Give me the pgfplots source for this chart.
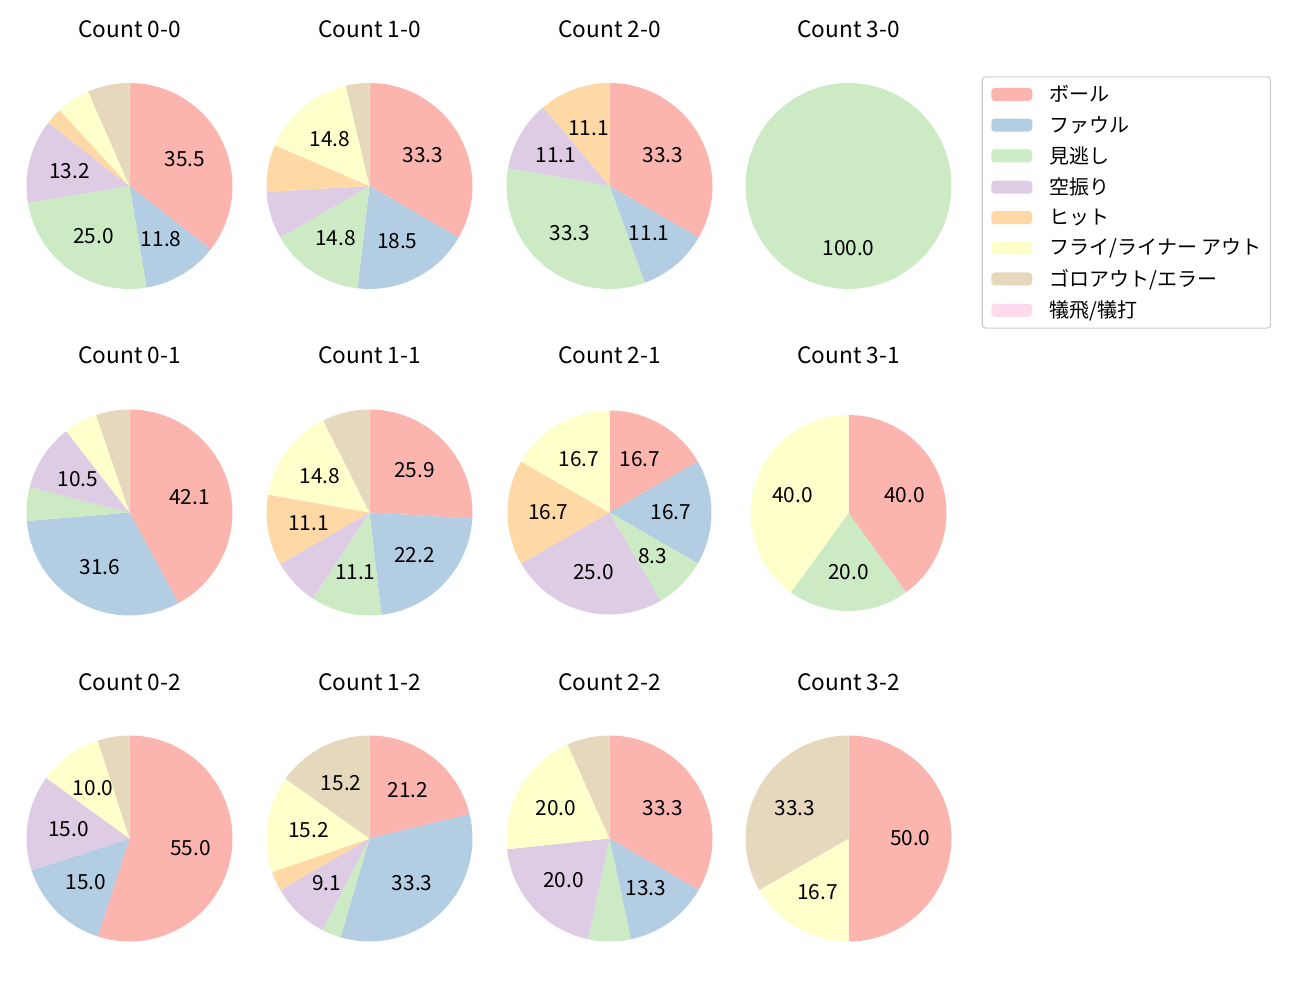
\documentclass[border=0pt]{standalone}
\usepackage{fontspec}
\setmainfont{Noto Sans CJK JP}
\usepackage{pgfplots}
\pgfplotsset{compat=1.18}

% Pastel1
\definecolor{c1}{HTML}{FBB4AE}
\definecolor{c2}{HTML}{B3CDE3}
\definecolor{c3}{HTML}{CCEBC5}
\definecolor{c4}{HTML}{DECBE4}
\definecolor{c5}{HTML}{FED9A6}
\definecolor{c6}{HTML}{FFFFCC}
\definecolor{c7}{HTML}{E5D8BD}
\definecolor{c8}{HTML}{FDDAEC}

\tikzset{
  lab/.style={font=\fontsize{15}{18}\selectfont, anchor=center, inner sep=0pt},
  ttl/.style={font=\fontsize{16.3}{19}\selectfont, anchor=center, inner sep=0pt},
}

% pie: centre x, centre y, radius (px), total count
\newcommand\piestart[4]{\xdef\pcx{#1}\xdef\pcy{#2}\xdef\prr{#3}\xdef\ptot{#4}\xdef\pacc{0}}
% slice: colour, count  (clockwise from 12 o'clock)
\newcommand\slice[2]{%
  \pgfmathsetmacro\sA{100*\pacc/\ptot}%
  \pgfmathsetmacro\sB{100*(\pacc+#2)/\ptot}%
  \pgfmathsetmacro\sM{(\sA+\sB)/2}%
  \pgfmathsetmacro\sX{\pcx+0.6*\prr*cos(90-3.6*\sM)}%
  \pgfmathsetmacro\sY{\pcy+0.6*\prr*sin(90-3.6*\sM)}%
  \pgfmathsetmacro\sP{100*#2/\ptot}%
  \pgfmathtruncatemacro\sN{\sP+4}%
  \edef\doit{\noexpand\addplot[forget plot, fill=#1, draw=none, domain=\sA:\sB,
    samples=\sN, variable=\noexpand\t]
    ({\pcx+\prr*cos(90-3.6*\noexpand\t)}, {\pcy+\prr*sin(90-3.6*\noexpand\t)})
    -- (axis cs:\pcx,\pcy) -- cycle;}%
  \doit
  \ifdim\sP pt>8pt
    \edef\dolab{\noexpand\node[lab] at (axis cs:\sX,\sY)
      {\noexpand\pgfmathprintnumber[fixed,fixed zerofill,precision=1,assume math mode=true]{\sP}};}%
    \dolab
  \fi
  \pgfmathsetmacro\sC{\pacc+#2}\xdef\pacc{\sC}}

\begin{document}
\begin{tikzpicture}
\begin{axis}[
  x=0.72pt, y=0.72pt,
  xmin=0, xmax=1300, ymin=0, ymax=1000,
  hide axis, clip=false,
  legend image code/.code={\path[#1] (0pt,-4.7pt) rectangle (29.5pt,4.7pt);},
  legend cell align=left,
  legend style={at={(axis cs:981.7,923.7)}, anchor=north west,
    draw=black!20, line width=0.8pt, rounded corners=2.5pt,
    inner xsep=6.5pt, inner ysep=6pt, row sep=8.9pt, column sep=12.5pt,
    font=\fontsize{14.4}{17}\selectfont,
    nodes={inner sep=0pt}},
]
\path (axis cs:0,0) rectangle (axis cs:1300,1000);

% --- row 0 strikes ---
\piestart{129.5}{814}{103}{76}
\slice{c1}{27}\slice{c2}{9}\slice{c3}{19}\slice{c4}{10}\slice{c5}{2}\slice{c6}{4}\slice{c7}{5}
\node[ttl] at (axis cs:129.5,971) {Count 0-0};

\piestart{369.5}{814}{103}{27}
\slice{c1}{9}\slice{c2}{5}\slice{c3}{4}\slice{c4}{2}\slice{c5}{2}\slice{c6}{4}\slice{c7}{1}
\node[ttl] at (axis cs:369.5,971) {Count 1-0};

\piestart{609.5}{814}{103}{9}
\slice{c1}{3}\slice{c2}{1}\slice{c3}{3}\slice{c4}{1}\slice{c5}{1}
\node[ttl] at (axis cs:609.5,971) {Count 2-0};

\piestart{848.5}{814}{103}{1}
\slice{c3}{1}
\node[ttl] at (axis cs:848.5,971) {Count 3-0};

% --- row 1 strike ---
\piestart{129.5}{487.5}{103}{19}
\slice{c1}{8}\slice{c2}{6}\slice{c3}{1}\slice{c4}{2}\slice{c6}{1}\slice{c7}{1}
\node[ttl] at (axis cs:129.5,644.5) {Count 0-1};

\piestart{369.5}{487.5}{103}{27}
\slice{c1}{7}\slice{c2}{6}\slice{c3}{3}\slice{c4}{2}\slice{c5}{3}\slice{c6}{4}\slice{c7}{2}
\node[ttl] at (axis cs:369.5,644.5) {Count 1-1};

\piestart{609.5}{487.5}{102}{12}
\slice{c1}{2}\slice{c2}{2}\slice{c3}{1}\slice{c4}{3}\slice{c5}{2}\slice{c6}{2}
\node[ttl] at (axis cs:609.5,644.5) {Count 2-1};

\piestart{848.5}{487}{98}{5}
\slice{c1}{2}\slice{c3}{1}\slice{c6}{2}
\node[ttl] at (axis cs:848.5,644.5) {Count 3-1};

% --- row 2 strikes ---
\piestart{129.5}{161.5}{103}{20}
\slice{c1}{11}\slice{c2}{3}\slice{c4}{3}\slice{c6}{2}\slice{c7}{1}
\node[ttl] at (axis cs:129.5,318) {Count 0-2};

\piestart{369.5}{161.5}{103}{33}
\slice{c1}{7}\slice{c2}{11}\slice{c3}{1}\slice{c4}{3}\slice{c5}{1}\slice{c6}{5}\slice{c7}{5}
\node[ttl] at (axis cs:369.5,318) {Count 1-2};

\piestart{609.5}{161.5}{103}{15}
\slice{c1}{5}\slice{c2}{2}\slice{c3}{1}\slice{c4}{3}\slice{c6}{3}\slice{c7}{1}
\node[ttl] at (axis cs:609.5,318) {Count 2-2};

\piestart{848.5}{161.5}{103}{6}
\slice{c1}{3}\slice{c6}{1}\slice{c7}{2}
\node[ttl] at (axis cs:848.5,318) {Count 3-2};

% --- legend ---
\addlegendimage{fill=c1, draw=none}\addlegendentry{ボール}
\addlegendimage{fill=c2, draw=none}\addlegendentry{ファウル}
\addlegendimage{fill=c3, draw=none}\addlegendentry{見逃し}
\addlegendimage{fill=c4, draw=none}\addlegendentry{空振り}
\addlegendimage{fill=c5, draw=none}\addlegendentry{ヒット}
\addlegendimage{fill=c6, draw=none}\addlegendentry{フライ/ライナー アウト}
\addlegendimage{fill=c7, draw=none}\addlegendentry{ゴロアウト/エラー}
\addlegendimage{fill=c8, draw=none}\addlegendentry{犠飛/犠打}
\end{axis}
\end{tikzpicture}
\end{document}
